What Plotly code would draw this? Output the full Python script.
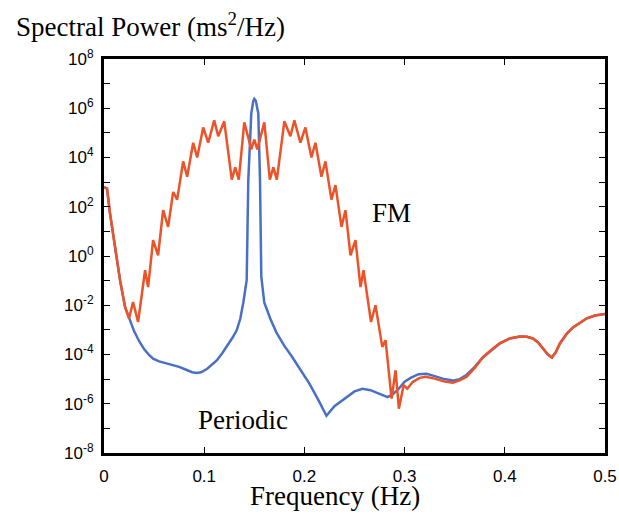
import plotly.graph_objects as go

# ---- data (power given as log10 exponent) ----
periodic_freq = [0.000, 0.003, 0.006, 0.011, 0.016, 0.021, 0.025, 0.030, 0.035, 0.040,
                 0.045, 0.049, 0.055, 0.062, 0.069, 0.075, 0.082, 0.088, 0.0925, 0.097,
                 0.103, 0.108, 0.1125, 0.118, 0.124, 0.1285, 0.1324, 0.136, 0.139, 0.1424,
                 0.1440, 0.1470, 0.1490, 0.1500, 0.1515, 0.1540, 0.1557, 0.1570, 0.1600, 0.1660,
                 0.1720, 0.1800, 0.1870, 0.1960, 0.2050, 0.2140, 0.2220, 0.2300, 0.2420, 0.2500,
                 0.2580, 0.2660, 0.2750, 0.2830, 0.2880, 0.2940, 0.3000, 0.3060, 0.3140, 0.3220,
                 0.3300, 0.3380, 0.3480, 0.3550, 0.3620, 0.3700, 0.3780, 0.3870, 0.3950, 0.4050,
                 0.4150, 0.4220, 0.4280, 0.4330, 0.4380, 0.4430, 0.4470, 0.4510, 0.4550, 0.4620,
                 0.4680, 0.4750, 0.4820, 0.4900, 0.4970, 0.5000]
periodic_exp = [2.80, 2.74, 1.73, 0.37, -0.98, -2.07, -2.54, -3.05, -3.45, -3.78,
                -4.02, -4.17, -4.28, -4.35, -4.44, -4.50, -4.62, -4.72, -4.75, -4.72,
                -4.58, -4.42, -4.24, -3.95, -3.60, -3.30, -3.02, -2.55, -1.90, -0.98,
                3.08, 5.79, 6.30, 6.38, 6.30, 5.79, 3.08, -0.85, -1.90, -2.55,
                -3.10, -3.65, -4.05, -4.60, -5.18, -5.85, -6.49, -6.10, -5.76, -5.50,
                -5.39, -5.45, -5.60, -5.73, -5.62, -5.40, -5.10, -4.95, -4.80, -4.78,
                -4.88, -4.98, -5.06, -5.00, -4.82, -4.50, -4.12, -3.80, -3.55, -3.35,
                -3.27, -3.28, -3.35, -3.50, -3.76, -4.00, -4.12, -3.90, -3.55, -3.15,
                -2.90, -2.70, -2.53, -2.42, -2.37, -2.36]

fm_freq = [0.000, 0.003, 0.006, 0.011, 0.016, 0.021, 0.025, 0.029, 0.034, 0.041,
           0.044, 0.049, 0.054, 0.059, 0.064, 0.069, 0.073, 0.079, 0.083, 0.089,
           0.093, 0.099, 0.104, 0.110, 0.114, 0.120, 0.1275, 0.131, 0.1345, 0.140,
           0.147, 0.150, 0.153, 0.160, 0.1655, 0.169, 0.1725, 0.180, 0.186, 0.190,
           0.196, 0.201, 0.207, 0.211, 0.217, 0.221, 0.227, 0.231, 0.237, 0.241,
           0.246, 0.251, 0.256, 0.259, 0.2665, 0.271, 0.2777, 0.281, 0.287, 0.291,
           0.2943, 0.299, 0.3027, 0.308, 0.315, 0.321, 0.330, 0.340, 0.348, 0.355,
           0.362, 0.370, 0.3780, 0.3870, 0.3950, 0.4050, 0.4150, 0.4220, 0.4280, 0.4330,
           0.4380, 0.4430, 0.4470, 0.4510, 0.4550, 0.4620, 0.4680, 0.4750, 0.4820, 0.4900,
           0.4970, 0.5000]
fm_exp = [2.80, 2.74, 1.73, 0.37, -0.98, -2.07, -2.54, -1.87, -2.68, -0.58,
          -1.26, 0.64, 0.03, 1.86, 1.18, 2.60, 2.29, 3.84, 3.22, 4.60,
          4.00, 5.22, 4.60, 5.51, 4.86, 5.47, 3.10, 3.60, 3.10, 5.43,
          4.33, 4.73, 4.33, 5.43, 3.10, 3.60, 3.10, 5.47, 4.86, 5.51,
          4.60, 5.22, 4.00, 4.60, 3.22, 3.84, 2.29, 2.88, 1.18, 1.86,
          0.03, 0.64, -1.26, -0.58, -2.68, -2.00, -3.69, -3.42, -5.79, -4.64,
          -6.20, -5.25, -5.39, -5.12, -4.95, -4.90, -4.98, -5.10, -5.15, -5.05,
          -4.90, -4.55, -4.12, -3.80, -3.55, -3.35, -3.27, -3.28, -3.35, -3.50,
          -3.76, -4.00, -4.12, -3.90, -3.55, -3.15, -2.90, -2.70, -2.53, -2.42,
          -2.37, -2.36]

x_tick_vals = [0, 0.1, 0.2, 0.3, 0.4, 0.5]
x_tick_text = ["0", "0.1", "0.2", "0.3", "0.4", "0.5"]
y_decades = list(range(-8, 9))

# ---- figure ----
periodic_power = [10 ** e for e in periodic_exp]
fm_power = [10 ** e for e in fm_exp]

BLUE = "#4a6fc6"
RED = "#ec5328"
SERIF = "Liberation Serif, Times New Roman, serif"
SANS = "Liberation Sans, Arial, sans-serif"

fig = go.Figure()
fig.add_trace(go.Scatter(x=periodic_freq, y=periodic_power, mode="lines",
                         line=dict(color=BLUE, width=2.5), name="Periodic"))
fig.add_trace(go.Scatter(x=fm_freq, y=fm_power, mode="lines",
                         line=dict(color=RED, width=2.5), name="FM"))

# the page margin is removed (post_script below), so the figure fills the window
W, H = 619, 520
L, R, T, B = 104, 14, 59, 67
pw, ph = W - L - R, H - T - B


def px_x(px):
    return (px - L) / pw


def px_y(py):
    return (H - B - py) / ph


axis_common = dict(showgrid=False, zeroline=False, showline=True, linewidth=3,
                   linecolor="black", mirror="ticks", ticks="inside", ticklen=6,
                   tickwidth=1, tickcolor="black", automargin=False,
                   tickfont=dict(family=SANS, size=17, color="black"))

fig.update_xaxes(range=[0, 0.5], tickvals=x_tick_vals, ticktext=x_tick_text,
                 ticklabelstandoff=6, **axis_common)
fig.update_yaxes(type="log", range=[-8, 8],
                 tickvals=[10 ** k for k in y_decades],
                 ticktext=[f"10<sup>{k}</sup>" if k % 2 == 0 else "" for k in y_decades],
                 ticklabelstandoff=4, **axis_common)

fig.update_layout(
    width=W, height=H, margin=dict(l=L, r=R, t=T, b=B),
    plot_bgcolor="white", paper_bgcolor="white", showlegend=False,
    annotations=[
        dict(text="Spectral Power (ms<sup>2</sup>/Hz)", xref="paper", yref="paper",
             x=px_x(14), y=px_y(25), xanchor="left", yanchor="middle", showarrow=False,
             font=dict(family=SERIF, size=27, color="black")),
        dict(text="Frequency (Hz)", xref="paper", yref="paper",
             x=px_x(335), y=px_y(496), xanchor="center", yanchor="middle", showarrow=False,
             font=dict(family=SERIF, size=27, color="black")),
        dict(text="FM", x=0.2865, y=1.74, xref="x", yref="y", showarrow=False,
             xanchor="center", yanchor="middle",
             font=dict(family=SERIF, size=27, color="black")),
        dict(text="Periodic", x=0.139, y=-6.67, xref="x", yref="y", showarrow=False,
             xanchor="center", yanchor="middle",
             font=dict(family=SERIF, size=27, color="black")),
    ],
)

# remove the default page margin and scrollbars so the figure fills the window
fig.write_html("out.html",
               config={"displayModeBar": False},
               post_script="document.body.style.margin='0';"
                           "document.documentElement.style.overflow='hidden';"
                           "document.body.style.overflow='hidden';")
